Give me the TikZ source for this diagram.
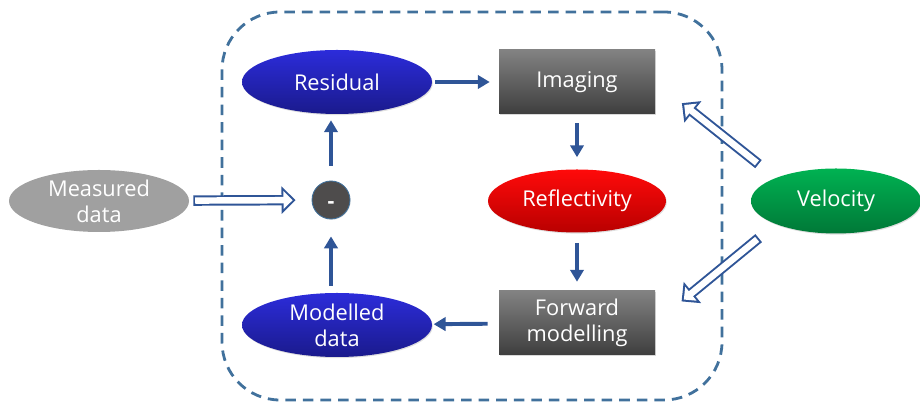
\documentclass[tikz,border=0pt]{standalone}
\usepackage{fontspec}
\setmainfont{Open Sans}
\usetikzlibrary{arrows.meta,shapes.geometric,shadows}
\definecolor{fwiBlueTop}{RGB}{44,44,218}
\definecolor{fwiBlueBot}{RGB}{26,26,140}
\definecolor{fwiGreyTop}{RGB}{130,130,130}
\definecolor{fwiGreyBot}{RGB}{62,62,62}
\definecolor{fwiRedTop}{RGB}{255,10,10}
\definecolor{fwiRedBot}{RGB}{185,0,0}
\definecolor{fwiGreenTop}{RGB}{0,178,82}
\definecolor{fwiGreenBot}{RGB}{0,120,55}
\definecolor{fwiData}{RGB}{160,160,160}
\definecolor{fwiMinus}{RGB}{78,76,76}
\definecolor{fwiArrow}{RGB}{47,85,151}
\definecolor{fwiLoop}{RGB}{65,113,156}

\begin{document}
\begin{tikzpicture}[
 oval/.style={ellipse,text=white,align=center,inner sep=0pt,font=\fontsize{15.5}{18.5}\selectfont,drop shadow={opacity=.25,shadow xshift=.6pt,shadow yshift=-.8pt}},
 blueoval/.style={oval,top color=fwiBlueTop,bottom color=fwiBlueBot,minimum width=4.75cm,minimum height=1.6cm},
 process/.style={rectangle,text=white,align=center,font=\fontsize{15.5}{18.5}\selectfont,top color=fwiGreyTop,bottom color=fwiGreyBot,minimum width=3.9cm,minimum height=1.6cm,drop shadow={opacity=.3,shadow xshift=.8pt,shadow yshift=-.8pt}},
 loopbox/.style={rectangle,rounded corners=1.45cm,draw=fwiLoop,line width=2pt,dash pattern=on 7.5pt off 5pt,minimum width=12.5cm,minimum height=9.7cm},
 edge/.style={-{Triangle[length=8.5pt,width=9.5pt]},line width=2.8pt,draw=fwiArrow},
 hollow/.style 2 args={-{Triangle[length=10pt,width=19pt]},line width=7.4pt,draw=fwiArrow,shorten <=#1,shorten >=#2,
   postaction={draw=white,line width=4.6pt,shorten <=#1+1.4pt,shorten >=#2+2.1pt,-{Triangle[length=6.5pt,width=12.4pt]}}}
]
\useasboundingbox (0,0) rectangle (23,10.2);
\node[loopbox] (loop) at (11.8,5.05) {};

\node[blueoval] (res) at (8.425,8.15) {Residual};
\node[process] (img) at (14.425,8.15) {Imaging};
\node[oval,top color=fwiRedTop,bottom color=fwiRedBot,minimum width=4.45cm,minimum height=1.575cm] (refl) at (14.425,5.175) {Reflectivity};
\node[process] (fwd) at (14.425,2.125) {Forward\\modelling};
\node[blueoval] (mod) at (8.425,2.075) {Modelled\\data};
\node[circle,draw=fwiLoop,line width=.6pt,fill=fwiMinus,minimum size=.95cm,inner sep=0pt,text=white,text height=.42cm,text depth=0pt,font=\bfseries\fontsize{15}{16}\selectfont,drop shadow={opacity=.2,shadow xshift=.5pt,shadow yshift=-.6pt}] (minus) at (8.275,5.2) {-};
\node[ellipse,fill=fwiData,text=white,align=center,inner sep=0pt,minimum width=4.5cm,minimum height=1.55cm,font=\fontsize{15.5}{18.5}\selectfont] (meas) at (2.475,5.175) {Measured\\data};
\node[oval,top color=fwiGreenTop,bottom color=fwiGreenBot,minimum width=4.25cm,minimum height=1.625cm] (vel) at (20.9,5.175) {Velocity};

% main loop
\draw[edge,shorten <=2pt,shorten >=.225cm] (res) -- (img);
\draw[edge,shorten <=.225cm,shorten >=.3cm] (img) -- (refl);
\draw[edge,shorten <=.25cm,shorten >=.225cm] (refl) -- (fwd);
\draw[edge,shorten <=.275cm,shorten >=1pt] (fwd) -- (mod);
\draw[edge,shorten <=.175cm,shorten >=.425cm] (mod.north -| minus.south) -- (minus.south);
\draw[edge,shorten <=.375cm,shorten >=.15cm] (minus.north) -- (res.south -| minus.north);

% inputs
\draw[hollow={.1cm}{.4cm}] (meas) -- (minus);
\draw[hollow={.55cm}{.85cm}] (vel.north west) -- (img.east);
\draw[hollow={.55cm}{.85cm}] (vel.south west) -- (fwd.east);
\end{tikzpicture}
\end{document}
